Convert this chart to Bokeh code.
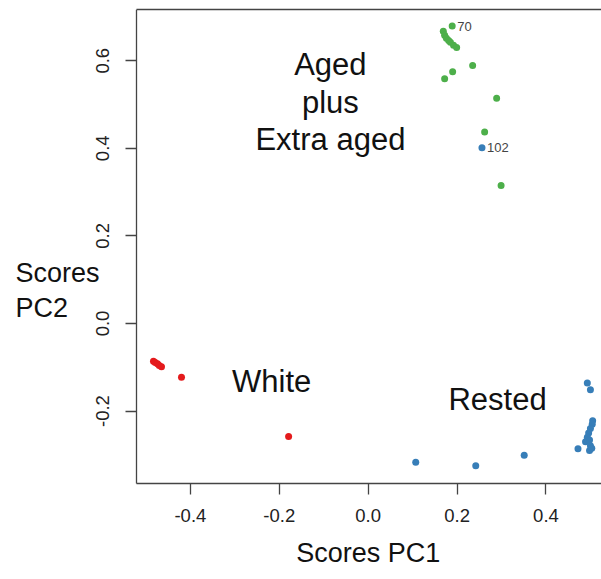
from bokeh.plotting import figure
from bokeh.models import Range1d, Label, FixedTicker, LinearAxis
from bokeh.embed import file_html
from bokeh.resources import INLINE

# ---- data ----
green_x = [0.189, 0.169, 0.172, 0.176, 0.181, 0.185, 0.192, 0.199, 0.235, 0.190, 0.172, 0.289, 0.262, 0.299]
green_y = [0.679, 0.667, 0.658, 0.651, 0.646, 0.642, 0.635, 0.630, 0.589, 0.575, 0.559, 0.514, 0.437, 0.315]

blue_x = [0.256, 0.107, 0.242, 0.351, 0.472, 0.493, 0.500, 0.505, 0.504, 0.500, 0.496, 0.493, 0.489, 0.498, 0.500, 0.498, 0.503]
blue_y = [0.401, -0.317, -0.325, -0.301, -0.286, -0.136, -0.151, -0.222, -0.230, -0.240, -0.250, -0.260, -0.270, -0.266, -0.279, -0.290, -0.285]

red_x = [-0.483, -0.479, -0.474, -0.470, -0.465, -0.420, -0.179]
red_y = [-0.086, -0.089, -0.092, -0.096, -0.099, -0.123, -0.258]

point_labels = ["70", "102"]
point_label_x = [0.189, 0.256]
point_label_y = [0.679, 0.401]

group_labels = ["Aged\nplus\nExtra aged", "White", "Rested"]
group_label_x = [-0.085, -0.217, 0.291]
group_label_y = [0.505, -0.132, -0.174]

x_ticks = [-0.4, -0.2, 0.0, 0.2, 0.4]
y_ticks = [-0.2, 0.0, 0.2, 0.4, 0.6]

x_title, x_title_x, x_title_y = "Scores PC1", 0.0, -0.525
y_title, y_title_x, y_title_y = "Scores\nPC2", -0.7935, 0.0753

# plot box (data limits) and the extra room around it used for the titles
X0, X1 = -0.5213, 0.5249
Y0, Y1 = -0.3653, 0.7169
XLEFT = -0.8272
YBOTTOM = -0.5845

GREEN = "#4DAF4A"
BLUE = "#377EB8"
RED = "#E41A1C"
FONT = "Liberation Sans"
AXC = "#444444"

p = figure(width=601, height=579, output_backend="svg", toolbar_location=None,
           x_range=Range1d(XLEFT, X1), y_range=Range1d(YBOTTOM, Y1),
           min_border_left=0, min_border_top=9, min_border_right=0, min_border_bottom=0)
p.outline_line_color = None
p.xgrid.visible = False
p.ygrid.visible = False
p.background_fill_color = "white"
p.border_fill_color = "white"

for ax, ticks in ((p.xaxis[0], x_ticks), (p.yaxis[0], y_ticks)):
    ax.ticker = FixedTicker(ticks=ticks)
    ax.minor_tick_line_color = None
    ax.major_tick_in = 0
    ax.major_tick_out = 11
    ax.axis_line_color = AXC
    ax.major_tick_line_color = AXC
    ax.axis_line_width = 1.3
    ax.major_tick_line_width = 1.3
    ax.major_label_text_font = FONT
    ax.major_label_text_font_size = "18.5px"
    ax.major_label_text_color = "#222222"
    ax.major_label_standoff = 15

p.xaxis[0].bounds = (X0, X1)
p.xaxis[0].fixed_location = Y0
p.xaxis[0].major_label_overrides = {t: f"{t:.1f}" for t in x_ticks}
p.yaxis[0].bounds = (Y0, Y1)
p.yaxis[0].fixed_location = X0
p.yaxis[0].major_label_overrides = {t: f"{t:.1f}" for t in y_ticks}
p.yaxis[0].major_label_orientation = "vertical"
p.yaxis[0].major_label_standoff = 16

# top edge of the box
top = LinearAxis(ticker=FixedTicker(ticks=[]), bounds=(X0, X1), axis_line_color=AXC,
                 axis_line_width=1.3, major_tick_out=0, major_tick_in=0,
                 minor_tick_line_color=None, major_label_text_font_size="0px",
                 major_label_standoff=0)
p.add_layout(top, "above")

p.scatter(green_x, green_y, size=7, color=GREEN, line_color=None)
p.scatter(blue_x, blue_y, size=7, color=BLUE, line_color=None)
p.scatter(red_x, red_y, size=7, color=RED, line_color=None)

for t, x, y in zip(point_labels, point_label_x, point_label_y):
    p.add_layout(Label(x=x, y=y, text=t, x_offset=5, text_font=FONT, text_font_size="13px",
                       text_color="#444444", text_baseline="middle", text_align="left"))

for t, x, y in zip(group_labels, group_label_x, group_label_y):
    p.add_layout(Label(x=x, y=y, text=t, text_font=FONT, text_font_size="31px",
                       text_color="#111111", text_baseline="middle", text_align="center",
                       text_line_height=1.07))

# axis titles
p.add_layout(Label(x=x_title_x, y=x_title_y, text=x_title, text_font=FONT, text_font_size="27px",
                   text_color="#111111", text_baseline="middle", text_align="center"))
p.add_layout(Label(x=y_title_x, y=y_title_y, text=y_title, text_font=FONT, text_font_size="27px",
                   text_color="#111111", text_baseline="middle", text_align="left",
                   text_line_height=1.17))

open("out.html", "w").write(file_html(p, INLINE))
